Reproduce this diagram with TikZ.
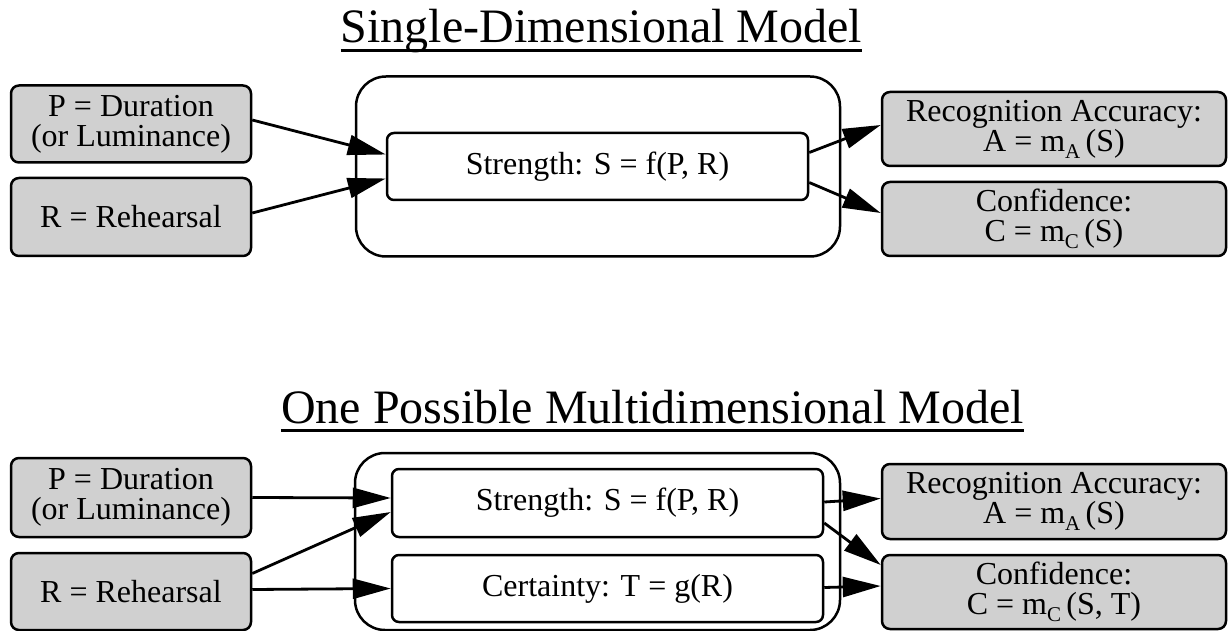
\documentclass[tikz,border=0pt]{standalone}
\usepackage{fontspec}
\setmainfont{Liberation Serif}
\usetikzlibrary{arrows.meta}
\definecolor{boxgray}{RGB}{208,208,208}
\newcommand{\subA}[1]{\raisebox{-0.22em}{\fontsize{21}{21}\selectfont #1}}
\begin{document}
\begin{tikzpicture}[x=1pt,y=-1pt,
  every node/.style={font=\fontsize{32}{30}\selectfont, align=center, inner sep=0pt},
  graybox/.style={draw, line width=2.5pt, fill=boxgray, rounded corners=8pt},
  whitebox/.style={draw, line width=2.5pt, fill=white, rounded corners=7pt},
  outerbox/.style={draw, line width=2.5pt, rounded corners=30pt},
  titletext/.style={font=\fontsize{48}{50}\selectfont},
  conn/.style={line width=2.8pt, -{Triangle[length=38pt,width=20pt]}}
]
\useasboundingbox (0,0) rectangle (1229,631);

% ---------- Top: Single-Dimensional Model ----------
\node[titletext, anchor=base] (t1) at (601.5,43) {Single-Dimensional Model};
\draw[line width=2.5pt] ([yshift=-7.5pt]t1.base west) -- ([yshift=-7.5pt]t1.base east);

\node[outerbox, minimum width=484pt, minimum height=180pt] (o1) at (598,166.5) {};
\node[graybox, minimum width=240pt, minimum height=77pt] (p1) at (131,124) {P = Duration\\(or Luminance)};
\node[graybox, minimum width=240pt, minimum height=78pt] (r1) at (131,217) {R = Rehearsal};
\node[whitebox, minimum width=421pt, minimum height=67pt] (s1) at (597.5,166.5) {Strength: S = f(P, R)};
\node[graybox, minimum width=344pt, minimum height=74pt] (a1) at (1054,129) {Recognition Accuracy:\\A = m\subA{A}\,(S)};
\node[graybox, minimum width=344pt, minimum height=74pt] (c1) at (1054,219) {Confidence:\\C = m\subA{C}\,(S)};

\draw[conn] ([yshift=4pt]p1.east) -- ([yshift=12pt]s1.west);
\draw[conn] ([yshift=4pt]r1.east) -- ([yshift=-12pt]s1.west);
\draw[conn] ([yshift=14pt]s1.east) -- ([yshift=4pt]a1.west);
\draw[conn] ([yshift=-16pt]s1.east) -- ([yshift=6pt]c1.west);

% ---------- Bottom: One Possible Multidimensional Model ----------
\node[titletext, anchor=base] (t2) at (652.5,423) {One Possible Multidimensional Model};
\draw[line width=2.5pt] ([yshift=-7.5pt]t2.base west) -- ([yshift=-7.5pt]t2.base east);

\node[outerbox, minimum width=485pt, minimum height=177pt] (o2) at (597.5,541.5) {};
\node[graybox, minimum width=240pt, minimum height=79pt] (p2) at (131,497.5) {P = Duration\\(or Luminance)};
\node[graybox, minimum width=240pt, minimum height=77pt] (r2) at (131,591.5) {R = Rehearsal};
\node[whitebox, minimum width=431pt, minimum height=68pt] (s2) at (607.5,503) {Strength: S = f(P, R)};
\node[whitebox, minimum width=431pt, minimum height=67pt] (g2) at (607.5,588.5) {Certainty: T = g(R)};
\node[graybox, minimum width=344pt, minimum height=75pt] (a2) at (1054,501.5) {Recognition Accuracy:\\A = m\subA{A}\,(S)};
\node[graybox, minimum width=344pt, minimum height=74pt] (c2) at (1054,592) {Confidence:\\C = m\subA{C}\,(S, T)};

\draw[conn] (p2.east) -- ([yshift=5pt]s2.west);
\draw[conn] ([yshift=18pt]r2.east) -- ([yshift=-9pt]s2.west);
\draw[conn] ([yshift=2pt]r2.east) -- ([yshift=0pt]g2.west);
\draw[conn] ([yshift=1pt]s2.east) -- ([yshift=3pt]a2.west);
\draw[conn] ([yshift=-20pt]s2.east) -- ([yshift=27pt]c2.west);
\draw[conn] ([yshift=1pt]g2.east) -- ([yshift=6pt]c2.west);
\end{tikzpicture}
\end{document}
